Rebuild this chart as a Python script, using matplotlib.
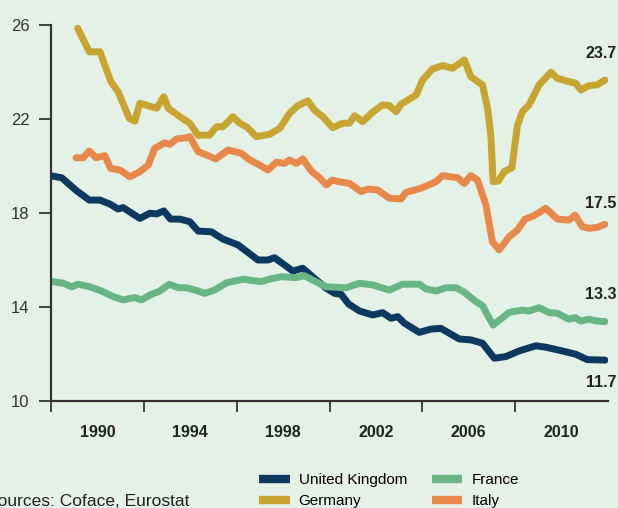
import matplotlib
matplotlib.use("Agg")
import matplotlib.pyplot as plt
from matplotlib.lines import Line2D

# values (year, level)
uk_years = [1988.07, 1988.46, 1989.11, 1989.65, 1990.11, 1990.54, 1990.89, 1991.11, 1991.83, 1992.26,
            1992.55, 1992.86, 1993.15, 1993.55, 1993.98, 1994.34, 1994.91, 1995.41, 1996.06, 1996.92,
            1997.35, 1997.63, 1998.42, 1998.85, 1999.35, 1999.86, 2000.22, 2000.50, 2000.82, 2001.29,
            2001.86, 2002.29, 2002.65, 2002.94, 2003.23, 2003.87, 2004.37, 2004.80, 2005.59, 2006.09,
            2006.59, 2007.10, 2007.60, 2008.17, 2008.89, 2009.32, 2010.03, 2010.61, 2011.11, 2011.87]
uk_vals = [19.57, 19.50, 18.94, 18.55, 18.55, 18.38, 18.17, 18.23, 17.77, 17.99,
           17.96, 18.09, 17.74, 17.74, 17.63, 17.23, 17.20, 16.89, 16.64, 16.00,
           16.00, 16.10, 15.53, 15.65, 15.22, 14.80, 14.58, 14.54, 14.13, 13.83,
           13.66, 13.76, 13.52, 13.59, 13.31, 12.92, 13.06, 13.09, 12.64, 12.60,
           12.46, 11.82, 11.89, 12.13, 12.35, 12.29, 12.13, 11.99, 11.76, 11.74]

de_years = [1989.15, 1989.65, 1990.11, 1990.58, 1990.89, 1991.37, 1991.61, 1991.83, 1992.55, 1992.86,
            1993.05, 1993.55, 1993.98, 1994.34, 1994.84, 1995.13, 1995.41, 1995.84, 1996.13, 1996.42,
            1996.85, 1997.42, 1997.85, 1998.28, 1998.64, 1999.07, 1999.35, 1999.71, 2000.14, 2000.57,
            2000.86, 2001.08, 2001.43, 2001.86, 2002.29, 2002.58, 2002.87, 2003.08, 2003.73, 2004.01,
            2004.44, 2004.87, 2005.30, 2005.81, 2006.09, 2006.59, 2006.81, 2006.95, 2007.05, 2007.28,
            2007.53, 2007.86, 2008.10, 2008.31, 2008.60, 2009.03, 2009.54, 2009.82, 2010.32, 2010.61,
            2010.83, 2011.18, 2011.54, 2011.87]
de_vals = [25.86, 24.86, 24.86, 23.59, 23.16, 22.03, 21.91, 22.67, 22.46, 22.95,
           22.46, 22.10, 21.82, 21.30, 21.32, 21.67, 21.67, 22.10, 21.82, 21.67,
           21.25, 21.35, 21.60, 22.24, 22.57, 22.77, 22.38, 22.10, 21.63, 21.82,
           21.82, 22.14, 21.89, 22.29, 22.60, 22.57, 22.31, 22.63, 23.02, 23.66,
           24.13, 24.27, 24.16, 24.51, 23.80, 23.45, 22.46, 21.32, 19.33, 19.36,
           19.76, 19.93, 21.74, 22.31, 22.60, 23.45, 23.99, 23.73, 23.59, 23.52,
           23.23, 23.42, 23.45, 23.66]

fr_years = [1988.07, 1988.53, 1988.89, 1989.17, 1989.68, 1990.18, 1990.68, 1991.11, 1991.61, 1991.90,
            1992.26, 1992.69, 1993.09, 1993.48, 1993.84, 1994.34, 1994.62, 1995.05, 1995.56, 1996.27,
            1997.06, 1997.42, 1997.92, 1998.57, 1998.92, 1999.35, 1999.86, 2000.72, 2001.29, 2001.86,
            2002.58, 2003.15, 2003.87, 2004.16, 2004.59, 2005.02, 2005.45, 2005.81, 2006.31, 2006.59,
            2006.81, 2007.05, 2007.74, 2008.31, 2008.60, 2009.03, 2009.46, 2009.82, 2010.32, 2010.58,
            2010.83, 2011.18, 2011.54, 2011.87]
fr_vals = [15.08, 15.01, 14.86, 14.97, 14.86, 14.68, 14.44, 14.30, 14.40, 14.30,
           14.51, 14.68, 14.97, 14.82, 14.82, 14.68, 14.58, 14.72, 15.03, 15.18,
           15.08, 15.19, 15.29, 15.25, 15.33, 15.11, 14.86, 14.82, 15.01, 14.94,
           14.72, 14.97, 14.97, 14.77, 14.68, 14.82, 14.82, 14.63, 14.23, 14.06,
           13.66, 13.23, 13.77, 13.87, 13.83, 13.97, 13.76, 13.73, 13.48, 13.55,
           13.40, 13.48, 13.40, 13.38]

it_years = [1989.08, 1989.39, 1989.65, 1989.94, 1990.32, 1990.57, 1990.97, 1991.40, 1991.83, 1992.19,
            1992.47, 1992.90, 1993.12, 1993.41, 1993.84, 1993.98, 1994.34, 1994.70, 1995.10, 1995.63,
            1996.20, 1996.56, 1996.99, 1997.35, 1997.71, 1998.06, 1998.28, 1998.57, 1998.85, 1999.21,
            1999.57, 1999.86, 2000.12, 2000.43, 2000.86, 2001.36, 2001.65, 2002.08, 2002.58, 2003.08,
            2003.30, 2003.94, 2004.59, 2004.87, 2005.52, 2005.81, 2006.09, 2006.38, 2006.74, 2007.02,
            2007.31, 2007.74, 2008.10, 2008.43, 2008.82, 2009.32, 2009.82, 2010.32, 2010.58, 2010.89,
            2011.18, 2011.54, 2011.87]
it_vals = [20.35, 20.35, 20.64, 20.35, 20.44, 19.90, 19.83, 19.54, 19.76, 20.04,
           20.75, 20.99, 20.92, 21.15, 21.20, 21.25, 20.61, 20.47, 20.30, 20.68,
           20.54, 20.26, 20.04, 19.83, 20.16, 20.11, 20.26, 20.11, 20.30, 19.79,
           19.50, 19.19, 19.40, 19.33, 19.26, 18.91, 19.02, 18.98, 18.63, 18.60,
           18.88, 19.05, 19.33, 19.59, 19.50, 19.26, 19.59, 19.40, 18.34, 16.78,
           16.43, 16.99, 17.28, 17.74, 17.89, 18.20, 17.74, 17.70, 17.91, 17.42,
           17.35, 17.39, 17.52]

end_labels = ["11.7", "23.7", "13.3", "17.5"]
year_labels = ["1990", "1994", "1998", "2002", "2006", "2010"]

bg = "#e3f1e6"
ink = "#333333"
plt.rcParams["font.family"] = ["Liberation Sans Narrow", "Liberation Sans", "DejaVu Sans"]

fig = plt.figure(figsize=(6.18, 5.08), dpi=100, facecolor=bg)
ax = fig.add_axes([51 / 618, 1 - 401 / 508, 557 / 618, 376 / 508], facecolor=bg)

series = [
    ("United Kingdom", uk_years, uk_vals, "#0d3960", -22),
    ("Germany", de_years, de_vals, "#c8a531", 26),
    ("France", fr_years, fr_vals, "#68b684", 27),
    ("Italy", it_years, it_vals, "#e8894b", 21),
]
handles = []
for (name, xs, ys, col, dy), lab in zip(series, end_labels):
    ax.plot(xs, ys, color=col, lw=5, solid_capstyle="round",
            solid_joinstyle="round")
    handles.append(Line2D([], [], color=col, lw=6, solid_capstyle="butt", label=name))
    ax.annotate(lab, (xs[-1], ys[-1]), xytext=(-4, dy), textcoords="offset pixels",
                ha="center", va="center", fontsize=11.5, fontweight="bold",
                color="#222222", annotation_clip=False)

ax.set_xlim(1988, 2012)
ax.set_ylim(10, 26)
for s in ["top", "right"]:
    ax.spines[s].set_visible(False)
for s in ["left", "bottom"]:
    ax.spines[s].set_color(ink)
    ax.spines[s].set_linewidth(1.6)

ax.set_yticks([10, 14, 18, 22, 26])
ax.tick_params(axis="y", length=8.5, width=1.3, color=ink, pad=7,
               labelsize=12, labelcolor=ink)
ax.set_xticks([1988, 1992, 1996, 2000, 2004, 2008])
ax.set_xticklabels([])
ax.tick_params(axis="x", which="major", length=8, width=1.3, color=ink)
ax.set_xticks([int(y) for y in year_labels], minor=True)
ax.set_xticklabels(year_labels, minor=True, fontweight="bold", fontsize=11.5, color="#222222")
ax.tick_params(axis="x", which="minor", length=0, pad=17)

fig.legend(handles=handles, ncol=2, loc="upper left", bbox_to_anchor=(259 / 618, 1 - 473 / 508),
           frameon=False, fontsize=11, handlelength=2.0, handletextpad=0.6,
           columnspacing=1.6, labelspacing=0.45, borderaxespad=0, borderpad=0)

fig.text(-14 / 618, 1 - 501 / 508, "Sources: Coface, Eurostat", fontsize=12.5,
         color="#222222", va="center", ha="left")

fig.savefig("out.png", dpi=100, facecolor=bg)
